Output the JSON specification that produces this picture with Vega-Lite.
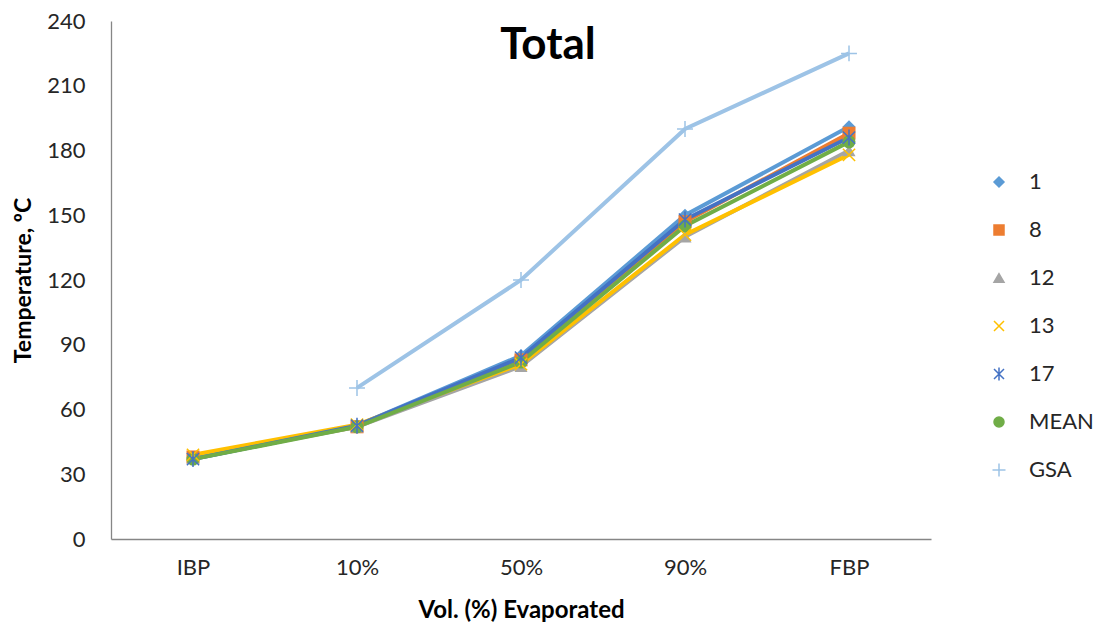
{
  "$schema": "https://vega.github.io/schema/vega-lite/v6.json",
  "width": 820,
  "height": 518,
  "autosize": {"type": "none"},
  "padding": {"left": 111, "top": 21, "right": 171, "bottom": 89},
  "background": "white",
  "config": {
    "view": {"stroke": null},
    "font": "Lato",
    "axis": {"domainColor": "#868686", "domainWidth": 1.3, "ticks": false, "grid": false, "labelFont": "Lato", "labelFontSize": 22, "labelColor": "#262626", "titleFont": "Lato", "titleFontSize": 24, "titleFontWeight": "bold", "titleColor": "#000000"}
  },
  "title": {"text": "Total", "font": "Lato", "fontSize": 44, "fontWeight": "bold", "color": "#000000", "anchor": "middle", "dx": 27, "dy": 62},
  "data": {"values": [
    {"stage": "IBP", "series": "1", "temp": 37},
    {"stage": "10%", "series": "1", "temp": 52.5},
    {"stage": "50%", "series": "1", "temp": 85},
    {"stage": "90%", "series": "1", "temp": 150},
    {"stage": "FBP", "series": "1", "temp": 191},
    {"stage": "IBP", "series": "8", "temp": 38},
    {"stage": "10%", "series": "8", "temp": 52},
    {"stage": "50%", "series": "8", "temp": 83},
    {"stage": "90%", "series": "8", "temp": 147},
    {"stage": "FBP", "series": "8", "temp": 188},
    {"stage": "IBP", "series": "12", "temp": 37.5},
    {"stage": "10%", "series": "12", "temp": 52},
    {"stage": "50%", "series": "12", "temp": 80},
    {"stage": "90%", "series": "12", "temp": 140},
    {"stage": "FBP", "series": "12", "temp": 180},
    {"stage": "IBP", "series": "13", "temp": 39},
    {"stage": "10%", "series": "13", "temp": 53},
    {"stage": "50%", "series": "13", "temp": 81},
    {"stage": "90%", "series": "13", "temp": 141},
    {"stage": "FBP", "series": "13", "temp": 178},
    {"stage": "IBP", "series": "17", "temp": 37},
    {"stage": "10%", "series": "17", "temp": 52.5},
    {"stage": "50%", "series": "17", "temp": 84},
    {"stage": "90%", "series": "17", "temp": 148},
    {"stage": "FBP", "series": "17", "temp": 186},
    {"stage": "IBP", "series": "MEAN", "temp": 37},
    {"stage": "10%", "series": "MEAN", "temp": 52},
    {"stage": "50%", "series": "MEAN", "temp": 82},
    {"stage": "90%", "series": "MEAN", "temp": 145},
    {"stage": "FBP", "series": "MEAN", "temp": 184},
    {"stage": "10%", "series": "GSA", "temp": 70},
    {"stage": "50%", "series": "GSA", "temp": 120},
    {"stage": "90%", "series": "GSA", "temp": 190},
    {"stage": "FBP", "series": "GSA", "temp": 225}
  ]},
  "encoding": {
    "x": {"field": "stage", "type": "nominal", "sort": ["IBP", "10%", "50%", "90%", "FBP"], "scale": {"padding": 0.5}, "axis": {"title": "Vol. (%) Evaporated", "labelAngle": 0, "labelPadding": 18, "titleY": 78, "titleBaseline": "alphabetic"}},
    "y": {"field": "temp", "type": "quantitative", "scale": {"domain": [0, 240], "nice": false}, "axis": {"title": "Temperature, ºC", "values": [0, 30, 60, 90, 120, 150, 180, 210, 240], "labelPadding": 26, "titleX": -88, "titleY": 259, "titleAngle": -90, "titleAlign": "center", "titleBaseline": "middle", "titleFontSize": 23}},
    "color": {"field": "series", "type": "nominal", "scale": {"domain": ["1", "8", "12", "13", "17", "MEAN", "GSA"], "range": ["#5B9BD5", "#ED7D31", "#A5A5A5", "#FFC000", "#4472C4", "#70AD47", "#9DC3E6"]},
      "legend": {"title": null, "orient": "none", "legendX": 877, "legendY": 150, "padding": 0, "symbolSize": 100, "labelOffset": 19, "rowPadding": 26, "labelFont": "Lato", "labelFontSize": 22, "labelColor": "#262626"}
    }
  },
  "layer": [
    {"mark": {"type": "line", "strokeWidth": 4}},
    {"transform": [{"filter": "indexof(['1','8','12','MEAN'], datum.series) >= 0"}],
     "mark": {"type": "point", "filled": true, "opacity": 1, "size": 170},
     "encoding": {"shape": {"field": "series", "type": "nominal", "legend": null, "scale": {"domain": ["1", "8", "12", "13", "17", "MEAN", "GSA"], "range": ["diamond", "square", "triangle-up", "M-1,-1L1,1M-1,1L1,-1", "M-1,-1L1,1M-1,1L1,-1M0,-1.3V1.3", "circle", "M-1.3,0H1.3M0,-1.3V1.3"]}}}},
    {"transform": [{"filter": "indexof(['13','17','GSA'], datum.series) >= 0"}],
     "mark": {"type": "point", "filled": false, "opacity": 1, "size": 150, "strokeWidth": 1.5},
     "encoding": {"shape": {"field": "series", "type": "nominal", "legend": null}}}
  ]
}
